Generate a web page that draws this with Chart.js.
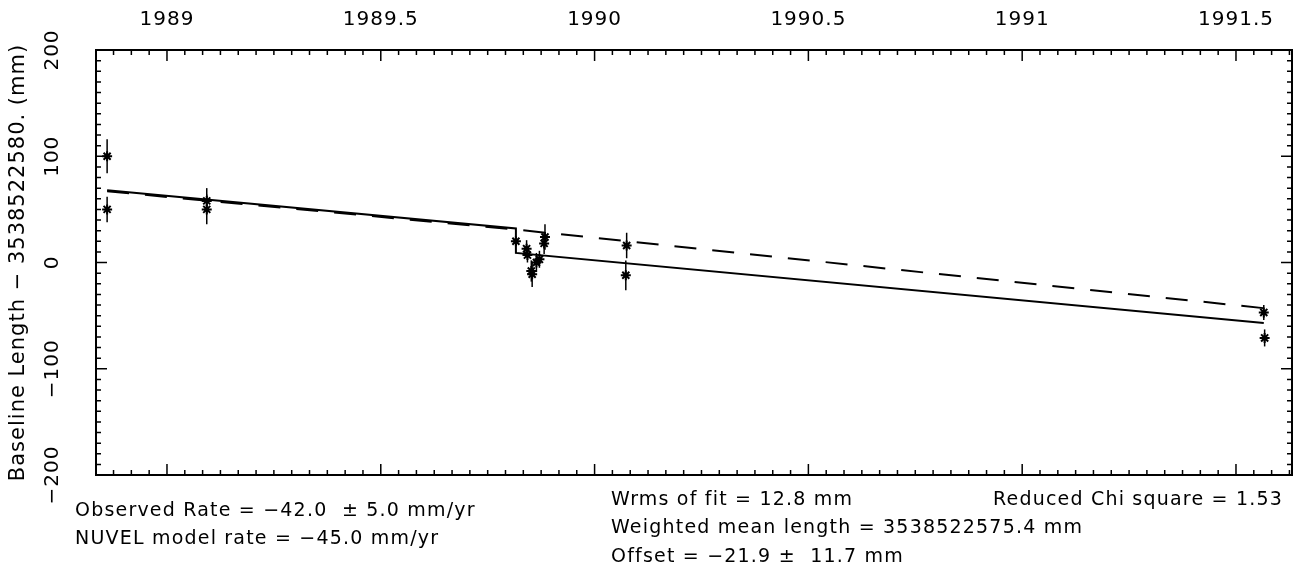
<!DOCTYPE html>
<html>
<head>
<meta charset="utf-8">
<script src="https://cdn.jsdelivr.net/npm/chart.js@4.4.1/dist/chart.umd.min.js"></script>
<style>
  body { margin: 0; background: #fff; }
  #wrap { position: relative; width: 1299px; height: 573px; }
  canvas { position: absolute; left: 0; top: 0; }
  .note {
    position: absolute; font-family: "DejaVu Sans", sans-serif; font-size: 19px;
    letter-spacing: 1.2px; line-height: 22px; white-space: pre; color: #000;
  }
</style>
</head>
<body>
<div id="wrap">
  <canvas id="myChart" width="1299" height="573"></canvas>
  <div class="note" style="left:75px; top:498px;">Observed Rate = −42.0  ± 5.0 mm/yr</div>
  <div class="note" style="left:75px; top:526px;">NUVEL model rate = −45.0 mm/yr</div>
  <div class="note" style="left:611px; top:487px;">Wrms of fit = 12.8 mm</div>
  <div class="note" style="left:611px; top:515px;">Weighted mean length = 3538522575.4 mm</div>
  <div class="note" style="left:611px; top:544px;">Offset = −21.9 ±  11.7 mm</div>
  <div class="note" style="right:16px; top:487px;">Reduced Chi square = 1.53</div>
</div>
<script>
// observations (decimal year, mm, 1-sigma)
const obsYears  = [1988.86, 1988.86, 1989.093, 1989.093, 1989.816, 1989.841, 1989.843, 1989.852, 1989.854,
                   1989.864, 1989.871, 1989.882, 1989.884, 1990.075, 1990.073, 1991.565, 1991.567];
const obsValues = [100, 50, 58, 50, 20, 13, 7, -8, -11, 0, 3, 18, 24, 16, -12, -47, -71];
const obsErrors = [16, 12, 12, 14, 4, 8, 7, 10, 12, 9, 8, 10, 12, 12, 14, 7, 8];

// fitted rate with offset (solid) and NUVEL model (dashed)
const fitYears    = [1988.86, 1989.816, 1989.816, 1991.565];
const fitValues   = [68, 32, 9, -57];
const modelYears  = [1988.86, 1989.816, 1991.565];
const modelValues = [67, 31, -43];

const xMin = 1988.834, xMax = 1991.631;
const yMin = -200, yMax = 200;

function pts(xs, ys) {
  return xs.map((x, i) => ({x: x, y: ys[i]}));
}

const frameTicks = {
  id: 'frameTicks',
  beforeDraw(chart) {
    chart.ctx.letterSpacing = '1px';
  },
  beforeDatasetsDraw(chart) {
    const ctx = chart.ctx, xs = chart.scales.x, ys = chart.scales.y;
    ctx.save();
    ctx.strokeStyle = '#000';
    ctx.lineWidth = 1.5;
    for (let i = 0; i < obsYears.length; i++) {
      const px = xs.getPixelForValue(obsYears[i]);
      ctx.beginPath();
      ctx.moveTo(px, ys.getPixelForValue(obsValues[i] - obsErrors[i]));
      ctx.lineTo(px, ys.getPixelForValue(obsValues[i] + obsErrors[i]));
      ctx.stroke();
    }
    ctx.restore();
  },
  afterDraw(chart) {
    const ctx = chart.ctx, a = chart.chartArea;
    const xs = chart.scales.x, ys = chart.scales.y;
    ctx.save();
    ctx.strokeStyle = '#000';
    ctx.lineWidth = 2;
    ctx.strokeRect(a.left, a.top, a.right - a.left, a.bottom - a.top);
    ctx.lineWidth = 1.5;
    ctx.beginPath();
    for (let k = Math.ceil(xMin * 24); k <= Math.floor(xMax * 24); k++) {
      const px = xs.getPixelForValue(k / 24);
      const len = k % 12 === 0 ? 11 : 5;
      ctx.moveTo(px, a.top); ctx.lineTo(px, a.top + len);
      ctx.moveTo(px, a.bottom); ctx.lineTo(px, a.bottom - len);
    }
    for (let v = yMin; v <= yMax; v += 10) {
      const py = ys.getPixelForValue(v);
      const len = v % 100 === 0 ? 11 : 5;
      ctx.moveTo(a.left, py); ctx.lineTo(a.left + len, py);
      ctx.moveTo(a.right, py); ctx.lineTo(a.right - len, py);
    }
    ctx.stroke();
    ctx.restore();
  }
};

const ctx = document.getElementById('myChart');
const tickFont = {family: 'DejaVu Sans', size: 20};

new Chart(ctx, {
  type: 'scatter',
  data: {
    datasets: [
      {
        data: pts(fitYears, fitValues),
        showLine: true, borderColor: '#000', borderWidth: 2,
        pointRadius: 0, tension: 0
      },
      {
        data: pts(modelYears, modelValues),
        showLine: true, borderColor: '#000', borderWidth: 2, borderDash: [22, 16],
        pointRadius: 0, tension: 0
      },
      {
        data: pts(obsYears, obsValues),
        pointStyle: 'star', pointRadius: 5, borderWidth: 2,
        borderColor: '#000', backgroundColor: '#000'
      }
    ]
  },
  options: {
    responsive: false,
    animation: false,
    events: [],
    layout: {padding: {left: 0, right: 4, top: 0, bottom: 98}},
    plugins: {legend: {display: false}, tooltip: {enabled: false}},
    scales: {
      x: {
        type: 'linear', position: 'top', min: xMin, max: xMax,
        grid: {display: false, drawTicks: false}, border: {display: false},
        afterFit: (s) => { s.height = 50; },
        ticks: {
          stepSize: 0.5, includeBounds: false, autoSkip: false, maxRotation: 0,
          padding: 18, color: '#000', font: tickFont,
          callback: (v) => String(Math.round(v * 10) / 10)
        }
      },
      y: {
        type: 'linear', position: 'left', min: yMin, max: yMax,
        grid: {display: false, drawTicks: false}, border: {display: false},
        afterFit: (s) => { s.width = 96; },
        title: {
          display: true, text: 'Baseline Length − 3538522580. (mm)',
          color: '#000', font: {family: 'DejaVu Sans', size: 21}, padding: {top: 6, bottom: 0}
        },
        ticks: {
          stepSize: 100, minRotation: 90, maxRotation: 90, crossAlign: 'center',
          padding: 16, color: '#000', font: tickFont,
          callback: (v) => String(v).replace('-', '−')
        }
      }
    }
  },
  plugins: [frameTicks]
});
</script>
</body>
</html>
